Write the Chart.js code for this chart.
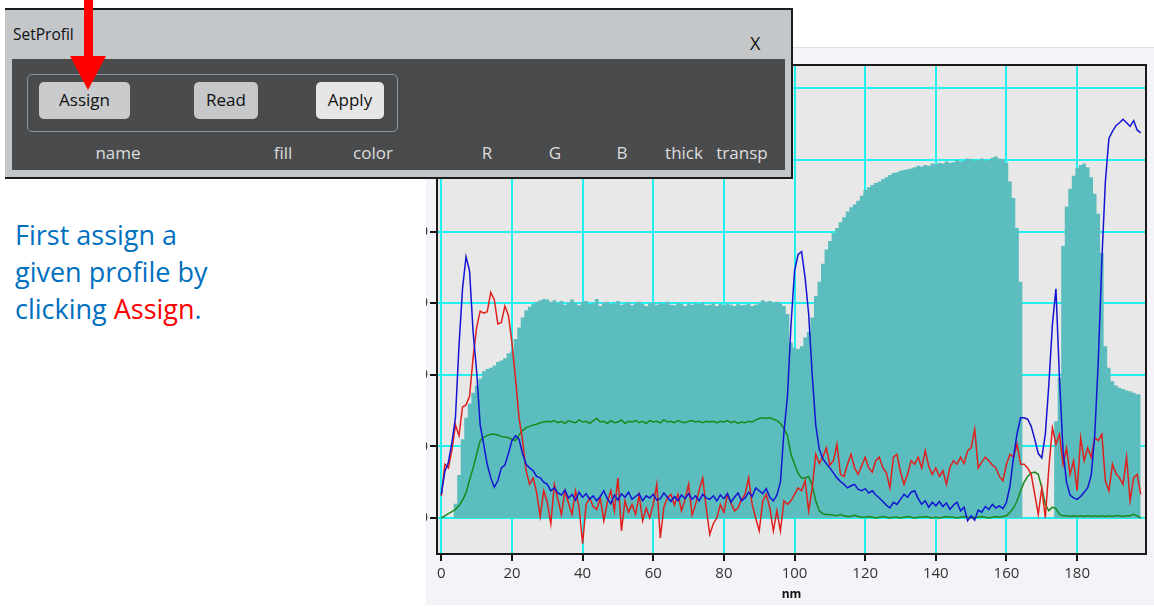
<!DOCTYPE html>
<html>
<head>
<meta charset="utf-8">
<script src="https://cdn.jsdelivr.net/npm/chart.js@4.4.1/dist/chart.umd.min.js"></script>
<style>
  body { margin: 0; width: 1154px; height: 607px; background: #fff; position: relative; overflow: hidden; font-family: 'Open Sans', sans-serif; }
  #panel { position: absolute; left: 426px; top: 47px; width: 728px; height: 557px; overflow: hidden; background: #f4f4f8; border-top: 1px solid #e0e0e4; }
  #panel canvas { position: absolute; left: -29px; top: 0; }
  #dlg { position: absolute; left: 5px; top: 8px; width: 786px; height: 167px; background: #c4c7ca; border-top: 2px solid #1c1c1c; border-right: 2px solid #1c1c1c; border-bottom: 2px solid #1c1c1c; }
  #dlg .title { position: absolute; left: 8px; top: 13px; font-size: 15.5px; color: #111; }
  #dlg .close { position: absolute; left: 745px; top: 21px; font-size: 18px; color: #111; }
  #dlg .body { position: absolute; left: 7px; top: 49px; width: 773px; height: 111px; background: #4a4b4d; }
  .grp { position: absolute; left: 15px; top: 15px; width: 369px; height: 56px; border: 1px solid #8b95a3; border-radius: 5px; }
  .btn { position: absolute; top: 23px; height: 37px; border-radius: 5px; font-size: 17px; color: #111; text-align: center; line-height: 36px; }
  .lbl { position: absolute; top: 82px; font-size: 17px; color: #dedede; transform: translateX(-50%); }
  #arrowShaft { position: absolute; left: 84px; top: 0; width: 9px; height: 58px; background: #ff0000; }
  #arrowHead { position: absolute; left: 70px; top: 56px; width: 0; height: 0; border-left: 18px solid transparent; border-right: 18px solid transparent; border-top: 34px solid #ff0000; }
  #note { position: absolute; left: 15px; top: 216px; font-size: 27px; line-height: 37px; color: #0070c0; }
  #note .hl { color: #ff0000; }
</style>
</head>
<body>
<div id="panel"><canvas id="profileChart" width="757" height="557"></canvas></div>

<div id="dlg">
  <div class="title">SetProfil</div>
  <div class="close">X</div>
  <div class="body">
    <div class="grp"></div>
    <div class="btn" style="left:27px;width:91px;background:#c9cbcd;">Assign</div>
    <div class="btn" style="left:182px;width:64px;background:#c5c7c9;">Read</div>
    <div class="btn" style="left:304px;width:68px;background:#e6e6e6;">Apply</div>
    <div class="lbl" style="left:106px;">name</div>
    <div class="lbl" style="left:271px;">fill</div>
    <div class="lbl" style="left:361px;">color</div>
    <div class="lbl" style="left:475px;">R</div>
    <div class="lbl" style="left:543px;">G</div>
    <div class="lbl" style="left:610px;">B</div>
    <div class="lbl" style="left:672px;">thick</div>
    <div class="lbl" style="left:730px;">transp</div>
  </div>
</div>
<div id="arrowShaft"></div>
<div id="arrowHead"></div>

<div id="note">First assign a<br>given profile by<br>clicking <span class="hl">Assign</span>.</div>

<script>
// positions en nm (pas de 1 nm)
const nm = Array.from({ length: 199 }, (_, i) => i);

// graduations des axes
const xTickValues = [0, 20, 40, 60, 80, 100, 120, 140, 160, 180];
const yTickValues = [0, 10, 20, 30, 40, 50, 60];

// profil rempli (aire turquoise)
const fillProfile = [
  0, 0, 0, 0, 2, 6, 11, 14, 16, 17.5,
  18.5, 19.5, 20.5, 20.8, 21, 21.3, 21.8, 22, 22.3, 23,
  23.3, 25, 26.6, 28, 29, 29.5, 29.9, 30.2, 30.4, 30.6,
  30.5, 30.2, 30.4, 30.0, 30.3, 29.8, 30.1, 30.5, 30.0, 29.7,
  30.2, 30.3, 29.9, 30.0, 30.6, 29.6, 30.1, 30.2, 29.9, 30.0,
  30.3, 29.8, 30.0, 30.1, 29.7, 30.0, 30.2, 29.9, 29.6, 30.0,
  30.1, 29.8, 30.0, 29.9, 30.2, 29.8, 29.7, 30.0, 29.9, 29.6,
  30.0, 29.8, 30.0, 29.9, 30.1, 29.7, 29.8, 30.0, 29.6, 29.9,
  29.7, 30.0, 29.8, 29.6, 29.9, 29.7, 29.8, 29.9, 29.6, 29.8,
  30.0, 30.4, 30.2, 30.3, 30.1, 30.2, 30.0, 29.6, 28.5, 24.5,
  23.8, 23.6, 24, 25.2, 26, 28, 31, 33, 35.5, 37.5,
  38.7, 39.8, 40.5, 41.3, 42, 42.8, 43.4, 43.8, 44.3, 45,
  45.8, 46.2, 46.5, 46.8, 47, 47.3, 47.6, 47.9, 48.2, 48.3,
  48.5, 48.6, 48.7, 48.8, 49, 49.2, 49.1, 49.3, 49.2, 49.5,
  49.4, 49.6, 49.5, 49.8, 49.6, 49.7, 50, 49.8, 49.9, 50.2,
  50.1, 49.9, 50, 50.2, 49.9, 50, 50.3, 50.5, 50.2, 50.1,
  49.6, 47, 44.7, 40.5, 33, 0, 0, 0, 0, 0,
  0, 0, 0, 0, 13.5, 19.6, 38, 43.5, 46, 47.8,
  48.9, 49.3, 49.5, 49, 47.6, 45.3, 42.5, 37, 24, 21,
  19.1, 18.5, 18.2, 18, 17.8, 17.7, 17.5, 17.3, 17.3
];

const blueProfile = [
  3.3, 6.5, 7.8, 10.5, 14, 24, 32, 36.5, 34.5, 26,
  20.5, 13, 10.3, 7.5, 5.6, 4.3, 5.2, 7, 7.4, 9,
  10.8, 11.5, 11, 9, 7.5, 7, 6.6, 5.8, 5.6, 5,
  4.7, 3.8, 4.2, 3.5, 3.2, 3.9, 2.8, 3.3, 2.5, 3.6,
  2.9, 3.4, 2.6, 3.1, 2.4, 3.0, 3.8, 2.7, 2.0, 3.2,
  2.5, 3.4, 2.9, 3.6, 2.6, 3.0, 3.4, 2.4, 3.1, 2.8,
  3.3, 2.5, 2.7, 3.5, 2.9, 2.3, 3.0, 2.4, 3.2, 2.7,
  3.4, 2.6, 3.1, 2.4, 3.3, 2.8, 2.6, 3.1, 2.4, 3.2,
  2.7, 3.4, 2.2, 2.9, 3.5, 2.4, 2.8, 3.6, 3.0, 4.2,
  3.8, 3.4, 4.1, 2.9, 2.4, 3.2, 5, 12, 17, 27,
  34.5, 36.8, 37.2, 33.5, 28.5, 20, 13, 9.6, 8.3, 7.6,
  7, 6.3, 5.6, 5.1, 4.7, 4.2, 4.5, 4.7, 4.0, 3.8,
  4.1, 3.5, 3.8, 3.2, 2.8, 2.3, 1.8, 1.4, 2.2, 1.9,
  2.6, 3.3, 2.9, 3.6, 3.8, 2.7, 1.9, 2.4, 1.5, 2.2,
  1.7, 2.3, 1.6, 2.1, 1.2, 1.8, 2.2, 1.0, 1.5, -0.4,
  0.3, -0.3, 1.1, 0.8, 1.6, 1.2, 1.9, 1.4, 1.7, 1.3,
  2.2, 4.5, 8.5, 11.8, 14, 14, 13.8, 12.8, 11, 9,
  8.4, 11.7, 18.7, 27, 32, 19.6, 9.5, 5, 3.2, 2.8,
  2.6, 3.0, 3.6, 4.2, 6, 11.7, 22, 36, 47, 53,
  54, 54.8, 55.2, 55.7, 55.2, 54.7, 55.5, 54.2, 53.8
];

const redProfile = [
  3.1, 7.5, 7, 9.5, 13, 11.5, 15.5, 15.8, 17, 22.4,
  26.6, 28.9, 28.6, 28.8, 31.5, 30.5, 27.1, 27.3, 29.6, 28.3,
  24.5, 19.5, 14, 10.8, 6.6, 4.7, 5.6, 3.5, 0.2, 3.8,
  2.2, -0.8, 4.7, 2.6, 0.5, 3.8, 2.1, 0.5, 3.8, 1.5,
  -3.6, 1.9, 2.8, 1.6, 1.2, 2.8, -0.4, 2.2, 3.8, 1,
  5.6, -1.8, 2.4, 0.8, 1.9, 0.5, 3.2, -0.4, 1.4, 0,
  1.9, 4.7, -2.8, 1.5, 2.8, 3.3, 1.8, 3.3, 1.0, 2.6,
  4.7, 0.4, 1.9, 3.9, 5.6, 1.4, -2.3, -0.8, 0, 1.9,
  0.8, 3.3, 2.1, 1, 1.4, 2.6, 3.3, 5.6, 1.9, 0,
  -1.8, 2.4, 3.3, 1.4, -1.8, 1, -1.8, 2.4, 1.9, 2.4,
  3.3, 4.2, 3.8, 5.2, 1, 4.2, 8.9, 7.6, 8.5, 9.8,
  7.4, 8, 10.3, 6.1, 5.8, 7.5, 8.9, 7, 6.1, 7.3,
  8.5, 7, 6.4, 8, 8.5, 7, 6.3, 4.2, 8.5, 8.9,
  6.4, 4.7, 6.1, 8, 7.5, 8.5, 7, 9.4, 7.2, 6.1,
  7, 5.8, 6.6, 4.7, 7.1, 8, 7.5, 8.5, 7.6, 9.4,
  9.8, 12.4, 7, 7.8, 8.5, 8, 7.4, 7, 5.8, 5.2,
  7.5, 8.9, 8.5, 10.3, 7.5, 7.5, 7, 6.1, 3.3, 0.5,
  4.2, 0, 7, 12.6, 10.3, 11.7, 7.5, 9.8, 6.1, 8,
  3.8, 11.2, 8, 9.8, 8.5, 11.2, 10.8, 11.7, 5.2, 3.8,
  7.5, 6.2, 5.6, 4.7, 8.5, 2.4, 5.6, 6.1, 3.3
];

const greenProfile = [
  0, 0.3, 0.6, 0.9, 1.2, 1.7, 2.5, 3.5, 5.3, 7,
  8.9, 10.8, 11.3, 11.5, 11.7, 11.7, 11.6, 11.4, 11.3, 11.2,
  11, 10.8, 11.6, 12.2, 12.6, 12.8, 13, 13.1, 13.3, 13.4,
  13.5, 13.4, 13.6, 13.3, 13.5, 13.2, 13.6, 13.4, 13.3, 13.7,
  13.4, 13.5, 13.2, 13.6, 13.9, 13.4, 13.5, 13.2, 13.6, 13.3,
  13.4, 13.7, 13.2, 13.5, 13.4, 13.6, 13.3, 13.5, 13.2, 13.6,
  13.4, 13.5, 13.3, 13.7, 13.4, 13.5, 13.3, 13.6, 13.4, 13.3,
  13.5, 13.6, 13.4, 13.5, 13.3, 13.5, 13.4, 13.5, 13.3, 13.5,
  13.4, 13.6, 13.3, 13.5, 13.2, 13.4, 13.3, 13.5, 13.4, 13.7,
  13.9, 14, 13.9, 14, 13.8, 13.6, 13.2, 12.5, 11.5, 8.9,
  7.5, 6.2, 5.6, 5.6, 5.8, 4.5, 2.4, 1.0, 0.6, 0.5,
  0.5, 0.4, 0.3, 0.5, 0.3, 0.2, 0.2, 0.4, 0.2, 0.1,
  0.1, 0.2, 0.1, 0, 0.1, 0.2, 0.1, 0, 0.1, 0.1,
  0, 0.1, 0.2, 0.1, 0, 0.1, 0.1, 0.2, 0.1, 0,
  0.1, 0, 0.1, 0.2, 0.1, 0.1, 0, 0.1, 0.2, 0.1,
  0, 0.1, 0.1, 0.2, 0.1, 0, 0.1, 0.2, 0.1, 0.2,
  0.3, 0.8, 1.4, 2.4, 3.8, 5, 5.8, 6.3, 6.4, 6.1,
  4.2, 1.9, 1.0, 1.5, 1.3, 0.5, 0.3, 0.3, 0.2, 0.3,
  0.2, 0.3, 0.2, 0.3, 0.2, 0.3, 0.2, 0.3, 0.2, 0.3,
  0.2, 0.3, 0.3, 0.2, 0.3, 0.3, 0.5, 0.3, 0
];

function toPoints(values) {
    return nm.map((x, i) => ({ x: x, y: values[i] }));
}

// fond gris de la zone de tracé + cadre
const plotFrame = {
    id: 'plotFrame',
    beforeDraw(chart) {
        const { ctx, chartArea: a } = chart;
        ctx.save();
        ctx.fillStyle = '#e8e8e8';
        ctx.fillRect(a.left, a.top, a.right - a.left, a.bottom - a.top);
        ctx.restore();
    },
    afterDraw(chart) {
        const { ctx, chartArea: a } = chart;
        ctx.save();
        ctx.strokeStyle = '#1a1a1a';
        ctx.lineWidth = 2;
        ctx.strokeRect(a.left, a.top, a.right - a.left, a.bottom - a.top);
        ctx.restore();
    }
};

const lineStyle = { type: 'line', pointRadius: 0, borderWidth: 1.5, tension: 0, fill: false };

new Chart(document.getElementById('profileChart').getContext('2d'), {
    data: {
        datasets: [
            { ...lineStyle, label: 'blue', data: toPoints(blueProfile), borderColor: '#1414d2', order: 1 },
            { ...lineStyle, label: 'red', data: toPoints(redProfile), borderColor: '#e0201e', order: 2 },
            { ...lineStyle, label: 'green', data: toPoints(greenProfile), borderColor: '#1a8a1a', order: 3 },
            {
                type: 'line', label: 'fill', data: toPoints(fillProfile), stepped: 'middle',
                fill: 'origin', backgroundColor: '#5bbdbd', borderWidth: 0, pointRadius: 0, order: 4
            }
        ]
    },
    options: {
        responsive: false,
        animation: false,
        devicePixelRatio: 1,
        layout: { padding: { top: 17, right: 8, left: 0, bottom: 0 } },
        plugins: { legend: { display: false }, tooltip: { enabled: false } },
        scales: {
            x: {
                type: 'linear', min: -1.22, max: 199.5,
                afterFit: s => { s.height = 51; },
                afterBuildTicks: s => { s.ticks = xTickValues.map(v => ({ value: v })); },
                grid: { color: '#20f0f0', lineWidth: 2, tickColor: '#111', tickLength: 7 },
                border: { display: false },
                ticks: { padding: 4, color: '#333', font: { family: 'Open Sans', size: 15 } },
                title: { display: true, text: 'nm', color: '#111', padding: { top: 0, bottom: 3 }, font: { family: 'Open Sans', size: 12, weight: 'bold' } }
            },
            y: {
                type: 'linear', min: -5.03, max: 63.27,
                afterFit: s => { s.width = 40; },
                afterBuildTicks: s => { s.ticks = yTickValues.map(v => ({ value: v })); },
                grid: { color: '#20f0f0', lineWidth: 2, tickColor: '#111', tickLength: 7 },
                border: { display: false },
                ticks: { padding: 2, color: '#333', font: { family: 'Open Sans', size: 15 } }
            }
        }
    },
    plugins: [plotFrame]
});
</script>
</body>
</html>
